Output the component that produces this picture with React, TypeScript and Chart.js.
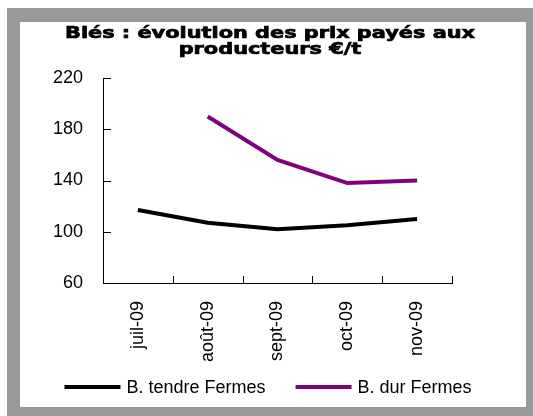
import React, { useEffect, useRef } from "react";
import { Chart, registerables } from "chart.js";

Chart.register(...registerables);

const categories = ["juil-09", "août-09", "sept-09", "oct-09", "nov-09"];
const tendreValues = [117, 107, 102, 105, 110];
const durValues = [null, 190, 156, 138, 140];
const seriesNames = ["B. tendre Fermes", "B. dur Fermes"];
const seriesColors = ["#000000", "#800080"];
const titleLines = ["Blés : évolution des prix payés aux", "producteurs €/t"];
const yMin = 60;
const yMax = 220;
const yStep = 40;

const FONT = "'Liberation Sans Narrow', 'Liberation Sans', Arial, sans-serif";
const FONT_SIZE = 18;

const innerTicksPlugin = {
  id: "innerTicks",
  afterDatasetsDraw(chart: any) {
    const { ctx, chartArea } = chart;
    const n = chart.data.labels.length;
    const yScale = chart.scales.y;
    ctx.save();
    ctx.strokeStyle = "#000";
    ctx.lineWidth = 1;
    for (let i = 0; i <= n; i++) {
      const x = Math.round(chartArea.left + (i * (chartArea.right - chartArea.left)) / n) + 0.5;
      ctx.beginPath();
      ctx.moveTo(x, chartArea.bottom);
      ctx.lineTo(x, chartArea.bottom - 7);
      ctx.stroke();
    }
    yScale.ticks.forEach((t: any) => {
      const y = Math.round(yScale.getPixelForValue(t.value)) + 0.5;
      ctx.beginPath();
      ctx.moveTo(chartArea.left, y);
      ctx.lineTo(chartArea.left + 8, y);
      ctx.stroke();
    });
    ctx.restore();
  },
};

const customTitlePlugin = {
  id: "customTitle",
  afterDraw(chart: any) {
    const { ctx } = chart;
    ctx.save();
    ctx.font = "bold 16px 'DejaVu Sans', sans-serif";
    const w0 = ctx.measureText(titleLines[0]).width;
    const s = 410 / w0;
    const cx = 250;
    const baselines = [15.5, 32];
    ctx.fillStyle = "#000";
    ctx.strokeStyle = "#000";
    ctx.lineWidth = 0.7;
    ctx.textAlign = "center";
    ctx.textBaseline = "alphabetic";
    titleLines.forEach((line, i) => {
      ctx.save();
      ctx.translate(cx, baselines[i]);
      ctx.scale(s, 1);
      ctx.fillText(line, 0, 0);
      ctx.strokeText(line, 0, 0);
      ctx.restore();
    });
    ctx.restore();
  },
};

const customLegendPlugin = {
  id: "customLegend",
  afterDraw(chart: any) {
    const { ctx } = chart;
    const ds = chart.data.datasets;
    const lineLen = 56;
    const gapText = 6;
    const gapItem = 30;
    ctx.save();
    ctx.font = `${FONT_SIZE}px ${FONT}`;
    const widths = ds.map((d: any) => ctx.measureText(d.label).width);
    let total = 0;
    ds.forEach((d: any, i: number) => {
      total += lineLen + gapText + widths[i];
      if (i < ds.length - 1) total += gapItem;
    });
    let x = chart.width / 2 - 5 - total / 2;
    const y = 365;
    ds.forEach((d: any, i: number) => {
      ctx.strokeStyle = d.borderColor;
      ctx.lineWidth = 4;
      ctx.beginPath();
      ctx.moveTo(x, y);
      ctx.lineTo(x + lineLen, y);
      ctx.stroke();
      x += lineLen + gapText;
      ctx.fillStyle = "#000";
      ctx.textBaseline = "middle";
      ctx.textAlign = "left";
      ctx.fillText(d.label, x, y + 1);
      x += widths[i] + gapItem;
    });
    ctx.restore();
  },
};

export default function App() {
  const canvasRef = useRef<HTMLCanvasElement>(null);

  useEffect(() => {
    const canvas = canvasRef.current;
    if (!canvas) return;
    const chart = new Chart(canvas, {
      type: "line",
      data: {
        labels: categories,
        datasets: [
          {
            label: seriesNames[0],
            data: tendreValues,
            borderColor: seriesColors[0],
            backgroundColor: seriesColors[0],
            borderWidth: 4,
            pointRadius: 0,
            tension: 0,
            spanGaps: false,
          },
          {
            label: seriesNames[1],
            data: durValues as any,
            borderColor: seriesColors[1],
            backgroundColor: seriesColors[1],
            borderWidth: 4,
            pointRadius: 0,
            tension: 0,
            spanGaps: false,
          },
        ],
      },
      options: {
        responsive: false,
        animation: false,
        devicePixelRatio: 1,
        layout: { padding: { left: 0, right: 74, top: 56, bottom: 0 } },
        plugins: {
          legend: { display: false },
          tooltip: { enabled: false },
          title: { display: false },
        },
        scales: {
          x: {
            type: "category",
            offset: true,
            grid: { display: false, drawTicks: false, offset: true },
            border: { display: true, color: "#000", width: 1 },
            ticks: {
              color: "#000",
              font: { family: FONT, size: FONT_SIZE },
              maxRotation: 90,
              minRotation: 90,
              padding: 18,
              autoSkip: false,
            },
            afterFit(scale: any) {
              scale.height = 124;
            },
          },
          y: {
            min: yMin,
            max: yMax,
            grid: { display: false, drawTicks: false },
            border: { display: true, color: "#000", width: 1 },
            ticks: {
              stepSize: yStep,
              color: "#000",
              font: { family: FONT, size: FONT_SIZE },
              padding: 20,
            },
            afterFit(scale: any) {
              scale.width = 83;
            },
          },
        },
      },
      plugins: [innerTicksPlugin, customTitlePlugin, customLegendPlugin],
    });
    return () => chart.destroy();
  }, []);

  return (
    <div
      style={{
        position: "fixed",
        left: 0,
        top: 0,
        width: 533,
        height: 416,
        background: "#fff",
        overflow: "hidden",
      }}
    >
      <div
        style={{
          position: "absolute",
          left: 7,
          top: 8,
          width: 526,
          height: 408,
          background: "#999999",
        }}
      >
        <div
          style={{
            position: "absolute",
            left: 13,
            top: 14,
            width: 506,
            height: 385,
            background: "#fff",
          }}
        >
          <canvas ref={canvasRef} width={506} height={385} style={{ display: "block" }} />
        </div>
      </div>
    </div>
  );
}
